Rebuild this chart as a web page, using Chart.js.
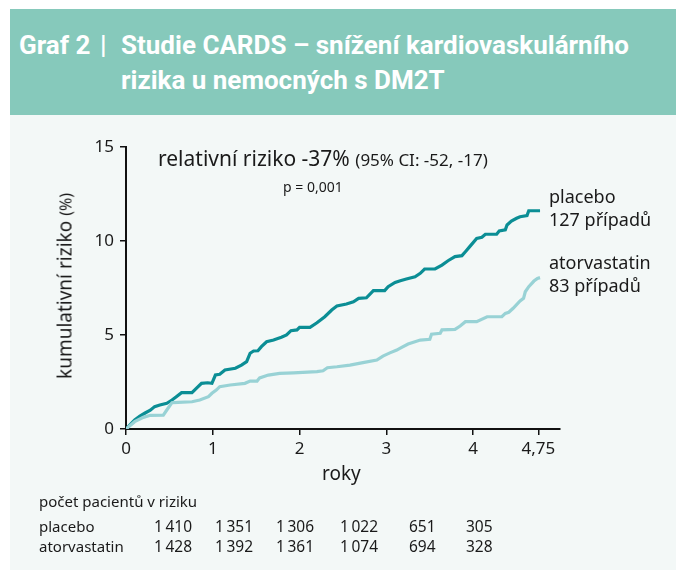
<!DOCTYPE html>
<html lang="cs">
<head>
<meta charset="utf-8">
<title>Graf 2 | Studie CARDS</title>
<script src="https://cdn.jsdelivr.net/npm/chart.js@4.4.1/dist/chart.umd.min.js"></script>
<style>
    body { margin: 0; background: #ffffff; }
    #wrap { position: relative; width: 679px; height: 570px; overflow: hidden; font-family: "Noto Sans", sans-serif; color: #1a1a1a; }
    .head { position: absolute; left: 10px; top: 9px; width: 666px; height: 106px; background: #86c9bb; }
    .panel { position: absolute; left: 10px; top: 115px; width: 666px; height: 455px; background: #f3f8f7; }
    .t { position: absolute; white-space: nowrap; line-height: 1; }
    .h { font-family: Roboto, sans-serif; font-weight: 700; font-size: 26px; color: #ffffff; }
    #chart { position: absolute; left: 0; top: 0; }
    .ytitle { position: absolute; left: 65px; top: 286px; transform: translate(-50%, -50%) rotate(-90deg); white-space: nowrap; font-size: 19px; line-height: 1; }
</style>
</head>
<body>
<div id="wrap">
    <div class="head"></div>
    <div class="panel"></div>
    <div class="t h" style="left:19px; top:32px;">Graf 2</div>
    <div class="t h" style="left:100px; top:32px;">|</div>
    <div class="t h" style="left:121px; top:32px;">Studie CARDS – snížení kardiovaskulárního</div>
    <div class="t h" style="left:121px; top:67px;">rizika u nemocných s DM2T</div>

    <canvas id="chart" width="679" height="570"></canvas>

    <div class="ytitle">kumulativní riziko <span style="font-size:16px">(%)</span></div>
    <div class="t" style="left:158px; top:148px; font-size:21px;">relativní riziko -37% <span style="font-size:17px">(95% CI: -52, -17)</span></div>
    <div class="t" style="left:283px; top:180px; font-size:14px;">p = 0,001</div>
    <div class="t" style="left:549px; top:187px; font-size:18px;">placebo</div>
    <div class="t" style="left:549px; top:210px; font-size:18px;">127 případů</div>
    <div class="t" style="left:549px; top:253px; font-size:18px;">atorvastatin</div>
    <div class="t" style="left:549px; top:276px; font-size:18px;">83 případů</div>

    <div id="table"></div>
    <div class="t" style="left:322px; top:464px; font-size:19px;">roky</div>
</div>

<script>
// data (roky, kumulativní riziko v %)
const placeboYears = [0, 0.10, 0.16, 0.22, 0.28, 0.33, 0.39, 0.47, 0.53, 0.58, 0.64, 0.76, 0.81, 0.87, 0.94, 0.99, 1.03, 1.08, 1.14, 1.26, 1.33, 1.39, 1.43, 1.47, 1.52, 1.56, 1.62, 1.70, 1.79, 1.85, 1.90, 1.97, 2.00, 2.12, 2.20, 2.29, 2.37, 2.43, 2.54, 2.62, 2.68, 2.77, 2.85, 2.98, 3.02, 3.10, 3.16, 3.23, 3.33, 3.39, 3.44, 3.56, 3.64, 3.71, 3.79, 3.87, 3.91, 3.96, 4.04, 4.10, 4.14, 4.27, 4.30, 4.37, 4.39, 4.44, 4.50, 4.54, 4.62, 4.64, 4.77];
const placeboRisk  = [0, 0.48, 0.69, 0.85, 1.00, 1.19, 1.28, 1.37, 1.54, 1.72, 1.93, 1.93, 2.16, 2.43, 2.46, 2.43, 2.87, 2.91, 3.14, 3.23, 3.40, 3.58, 4.03, 4.15, 4.16, 4.38, 4.64, 4.73, 4.88, 5.00, 5.23, 5.27, 5.41, 5.41, 5.65, 5.97, 6.33, 6.54, 6.65, 6.77, 6.95, 6.98, 7.36, 7.36, 7.57, 7.80, 7.89, 7.98, 8.10, 8.28, 8.51, 8.51, 8.72, 8.95, 9.17, 9.22, 9.43, 9.70, 10.14, 10.20, 10.36, 10.36, 10.53, 10.59, 10.85, 11.06, 11.21, 11.29, 11.35, 11.61, 11.61];

const atorvaYears = [0, 0.10, 0.20, 0.28, 0.43, 0.47, 0.53, 0.60, 0.76, 0.85, 0.95, 0.99, 1.04, 1.08, 1.20, 1.37, 1.43, 1.51, 1.54, 1.64, 1.77, 1.93, 2.20, 2.27, 2.32, 2.43, 2.58, 2.73, 2.89, 2.96, 3.04, 3.12, 3.16, 3.25, 3.39, 3.50, 3.52, 3.62, 3.64, 3.79, 3.85, 3.91, 4.04, 4.16, 4.33, 4.37, 4.41, 4.46, 4.54, 4.58, 4.60, 4.64, 4.70, 4.74, 4.77];
const atorvaRisk  = [0, 0.39, 0.62, 0.73, 0.74, 1.01, 1.40, 1.42, 1.45, 1.54, 1.72, 1.90, 2.07, 2.25, 2.34, 2.43, 2.55, 2.55, 2.72, 2.87, 2.96, 2.99, 3.05, 3.10, 3.26, 3.31, 3.40, 3.53, 3.67, 3.88, 4.05, 4.20, 4.30, 4.52, 4.73, 4.77, 5.04, 5.09, 5.27, 5.30, 5.48, 5.71, 5.71, 5.97, 5.97, 6.15, 6.21, 6.42, 6.81, 6.95, 7.30, 7.57, 7.87, 8.01, 8.05];

const xTicks = [0, 1, 2, 3, 4, 4.75];
const yTicks = [0, 5, 10, 15];

// počet pacientů v riziku
const atRiskGroups = ['placebo', 'atorvastatin'];
const atRiskPlacebo = [1410, 1351, 1306, 1022, 651, 305];
const atRiskAtorva = [1428, 1392, 1361, 1074, 694, 328];

const placeboColor = '#0b8e95';
const atorvaColor = '#98d2d5';

// tabulka pod grafem
const colLeft = [154, 215, 276, 340, 409, 466];
const rowTop = [519, 539];
const table = document.getElementById('table');
function addText(txt, left, top, size) {
    const d = document.createElement('div');
    d.className = 't';
    d.style.left = left + 'px';
    d.style.top = top + 'px';
    d.style.fontSize = size + 'px';
    d.textContent = txt;
    table.appendChild(d);
}
function fmt(n) {
    return String(n).replace(/\B(?=(\d{3})+(?!\d))/g, '\u2009');
}
addText('počet pacientů v riziku', 39, 494, 15);
[atRiskPlacebo, atRiskAtorva].forEach(function(row, r) {
    addText(atRiskGroups[r], 39, rowTop[r], 15);
    row.forEach(function(v, i) {
        addText(fmt(v), colLeft[i], rowTop[r], 15.5);
    });
});

function toPoints(xs, ys) {
    return xs.map(function(x, i) { return { x: x, y: ys[i] }; });
}

const axisFont = { family: '"Noto Sans", sans-serif', size: 17 };

new Chart(document.getElementById('chart').getContext('2d'), {
    type: 'line',
    data: {
        datasets: [
            {
                label: 'atorvastatin',
                data: toPoints(atorvaYears, atorvaRisk),
                borderColor: atorvaColor,
                borderWidth: 3.2,
                pointRadius: 0,
                tension: 0
            },
            {
                label: 'placebo',
                data: toPoints(placeboYears, placeboRisk),
                borderColor: placeboColor,
                borderWidth: 3.2,
                pointRadius: 0,
                tension: 0
            }
        ]
    },
    options: {
        responsive: false,
        animation: false,
        layout: {
            padding: { left: 0, right: 119, top: 147, bottom: 101 }
        },
        plugins: {
            legend: { display: false },
            tooltip: { enabled: false }
        },
        scales: {
            x: {
                type: 'linear',
                min: 0,
                max: 5,
                afterBuildTicks: function(scale) {
                    scale.ticks = xTicks.map(function(v) { return { value: v }; });
                },
                afterFit: function(scale) { scale.height = 40; },
                ticks: {
                    color: '#1a1a1a',
                    font: axisFont,
                    padding: 4,
                    maxRotation: 0,
                    autoSkip: false,
                    callback: function(v) { return String(v).replace('.', ','); }
                },
                grid: { drawOnChartArea: false, tickLength: 6, color: '#111', lineWidth: 1.5 },
                border: { color: '#111', width: 2 }
            },
            y: {
                min: 0,
                max: 15,
                afterBuildTicks: function(scale) {
                    scale.ticks = yTicks.map(function(v) { return { value: v }; });
                },
                afterFit: function(scale) { scale.width = 126; },
                ticks: {
                    color: '#1a1a1a',
                    font: axisFont,
                    padding: 6
                },
                grid: { drawOnChartArea: false, tickLength: 6, color: '#111', lineWidth: 1.5 },
                border: { color: '#111', width: 2 }
            }
        }
    }
});
</script>
</body>
</html>
